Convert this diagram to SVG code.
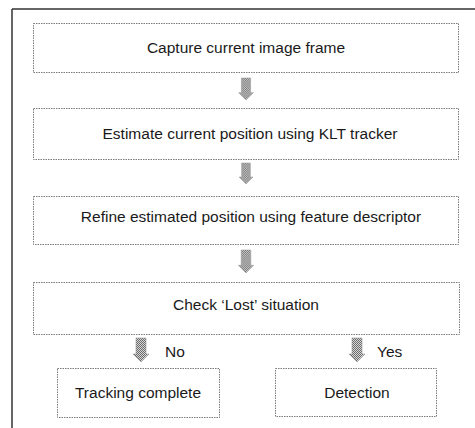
<svg xmlns="http://www.w3.org/2000/svg" width="475" height="428" viewBox="0 0 475 428">
<style>
.box{fill:#fff;stroke:#7a7a7a;stroke-width:1;stroke-dasharray:1.5 1}
.t{font-family:"Liberation Sans",Arial,sans-serif;font-size:15.5px;fill:#1a1a1a;text-anchor:middle}
.l{font-family:"Liberation Sans",Arial,sans-serif;font-size:15.5px;fill:#1a1a1a}
.arr{fill:url(#ht);stroke:#999;stroke-width:0.6}
</style>
<defs>
<pattern id="ht" width="2" height="2" patternUnits="userSpaceOnUse">
<rect width="2" height="2" fill="#d8d8d8"/>
<rect width="1" height="1" fill="#6a6a6a"/>
<rect x="1" y="1" width="1" height="1" fill="#6a6a6a"/>
</pattern>
<symbol id="da" viewBox="0 0 18 24" overflow="visible">
<path class="arr" d="M4,0 H14 V16 H17 L9,24 L1,16 H4 Z"/>
</symbol>
</defs>
<rect width="475" height="428" fill="#fff"/>
<g id="frame">
<line x1="12" y1="9" x2="475" y2="9" stroke="#333" stroke-width="1.5"/>
<line x1="12" y1="9" x2="12" y2="428" stroke="#333" stroke-width="1.5"/>
</g>
<g id="n1"><rect class="box" x="33.5" y="23.5" width="425" height="49"/><text class="t" x="246" y="53">Capture current image frame</text></g>
<g id="n2"><rect class="box" x="33.5" y="108.5" width="425" height="51"/><text class="t" x="250" y="139">Estimate current position using KLT tracker</text></g>
<g id="n3"><rect class="box" x="33.5" y="196.5" width="425" height="48"/><text class="t" x="251" y="222">Refine estimated position using feature descriptor</text></g>
<g id="n4"><rect class="box" x="33.5" y="282.5" width="426" height="52"/><text class="t" x="246" y="310">Check ‘Lost’ situation</text></g>
<g id="n5"><rect class="box" x="57.5" y="368.5" width="162" height="49"/><text class="t" x="138" y="398">Tracking complete</text></g>
<g id="n6"><rect class="box" x="275.5" y="368.5" width="161" height="48"/><text class="t" x="357" y="398">Detection</text></g>
<g id="connectors">
<use href="#da" x="237" y="78" width="18" height="22"/>
<use href="#da" x="237" y="163" width="18" height="21"/>
<use href="#da" x="237" y="250" width="18" height="23"/>
<use href="#da" x="132" y="338" width="18" height="24"/>
<use href="#da" x="348" y="338" width="18" height="24"/>
<text class="l" x="165" y="357">No</text>
<text class="l" x="377" y="357">Yes</text>
</g>
</svg>
